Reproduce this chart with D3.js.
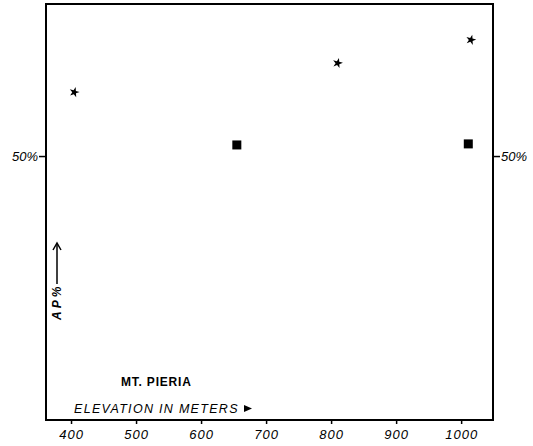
<!DOCTYPE html>
<html><head><meta charset="utf-8">
<script src="https://cdn.jsdelivr.net/npm/d3@7"></script>
<style>body{margin:0;background:#fff}text{font-family:"Liberation Sans",Arial,sans-serif}</style>
</head><body><svg id="c" width="533" height="446"></svg>
<script>
const xTicks=[400,500,600,700,800,900,1000];
const yTicks=[50];
const starX=[405,810,1015];
const starY=[62.1,67.6,72.0];
const squareX=[655,1011];
const squareY=[52.1,52.3];

const svg=d3.select("#c");
const L=46,R=493,T=4,B=420;
const x=d3.scaleLinear().domain([361.5,1049]).range([L,R]);
const y=d3.scaleLinear().domain([0,78.8]).range([B,T]);

svg.append("rect").attr("x",L).attr("y",T).attr("width",R-L).attr("height",B-T)
  .attr("fill","none").attr("stroke","#000").attr("stroke-width",2);

const xa=svg.append("g").attr("transform",`translate(0,${B})`)
  .call(d3.axisBottom(x).tickValues(xTicks).tickSize(4).tickPadding(6).tickFormat(d3.format("d")));
xa.select(".domain").remove();
xa.selectAll("line").attr("stroke-width",1.5);
xa.selectAll("text").attr("font-size",13).attr("font-style","italic").attr("letter-spacing",1).attr("fill","#000");

const yl=svg.append("g").attr("transform",`translate(${L},0)`)
  .call(d3.axisLeft(y).tickValues(yTicks).tickSize(7).tickPadding(1).tickFormat(d=>d+"%"));
yl.select(".domain").remove();
yl.selectAll("line").attr("stroke-width",1.5);
yl.selectAll("text").attr("font-size",13).attr("font-style","italic").attr("fill","#000");
const yr=svg.append("g").attr("transform",`translate(${R},0)`)
  .call(d3.axisRight(y).tickValues(yTicks).tickSize(7).tickPadding(1).tickFormat(d=>d+"%"));
yr.select(".domain").remove();
yr.selectAll("line").attr("stroke-width",1.5);
yr.selectAll("text").attr("font-size",13).attr("font-style","italic").attr("fill","#000");

const star=d3.symbol().type(d3.symbolStar).size(32);
svg.selectAll(".st").data(starX.map((v,i)=>[v,starY[i]])).join("path")
  .attr("d",star).attr("transform",d=>`translate(${x(d[0])},${y(d[1])}) rotate(15)`).attr("fill","#000");
svg.selectAll(".sq").data(squareX.map((v,i)=>[v,squareY[i]])).join("rect")
  .attr("x",d=>x(d[0])-4.5).attr("y",d=>y(d[1])-4.5).attr("width",9).attr("height",9).attr("fill","#000");

svg.append("text").attr("x",121).attr("y",386).attr("font-size",12).attr("font-weight","bold").attr("letter-spacing",0.8).text("MT. PIERIA");
svg.append("text").attr("x",74).attr("y",413).attr("font-size",12.5).attr("font-style","italic").attr("letter-spacing",1.3).text("ELEVATION IN METERS");
svg.append("path").attr("d","M244,405 L252,408.5 L244,412 Z").attr("fill","#000");

const g=svg.append("g").attr("transform","translate(61,320) rotate(-90)");
g.append("text").attr("x",0).attr("y",0).attr("font-size",12).attr("font-style","italic").attr("font-weight","bold").attr("letter-spacing",3).text("AP%");
g.append("line").attr("x1",36).attr("x2",76).attr("y1",-4).attr("y2",-4).attr("stroke","#000").attr("stroke-width",1.5);
g.append("path").attr("d","M70,-8 L77,-4 L70,0").attr("fill","none").attr("stroke","#000").attr("stroke-width",1.5);
</script></body></html>
